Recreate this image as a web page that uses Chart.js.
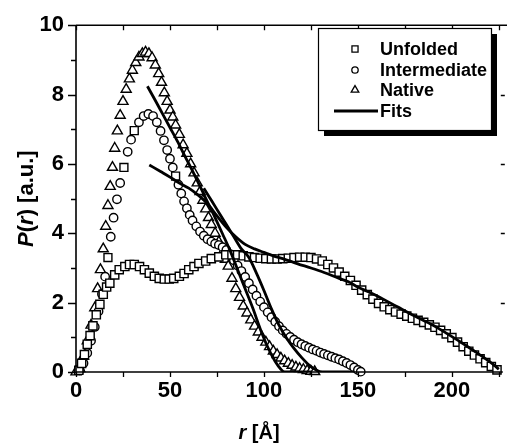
<!DOCTYPE html>
<html><head><meta charset="utf-8">
<script src="https://cdn.jsdelivr.net/npm/chart.js@4.4.1/dist/chart.umd.min.js"></script>
<style>html,body{margin:0;padding:0;background:#fff;}</style>
</head><body>
<canvas id="c" width="507" height="444"></canvas>
<script>
// ---- data (r in Å, P(r) in a.u.) ----
const unfoldedR = [1.5,3,4.5,6,7.5,9,10.8,12.7,14.5,16.3,18,20.6,23,26,28.5,31,33.8,36.4,39,41.7,44.3,47,49.6,52,55,57.5,60,62.8,65.4,69,72,76,79.7,83,86,89,92,95,98,101,104,107,110,113,116,119,122,125,128,131,134,137,140,143,146,149,152,155,158,161,164,167,170,173,176,179,182,185,188,191,194,197,200,203,206,209,212,215,218,221,224];
const unfoldedP = [0.05,0.25,0.5,0.8,1.05,1.33,1.65,1.95,2.24,2.45,2.56,2.8,2.95,3.04,3.1,3.1,3.04,2.95,2.85,2.76,2.7,2.68,2.68,2.7,2.76,2.84,2.95,3.04,3.13,3.2,3.27,3.32,3.38,3.38,3.38,3.35,3.32,3.3,3.28,3.27,3.26,3.26,3.27,3.28,3.3,3.31,3.31,3.3,3.26,3.2,3.1,3.0,2.88,2.76,2.64,2.5,2.36,2.23,2.1,1.98,1.88,1.8,1.73,1.67,1.61,1.55,1.49,1.43,1.36,1.29,1.2,1.1,0.99,0.86,0.73,0.6,0.49,0.38,0.27,0.16,0.06];

const intermediateR = [2,4,6,8,10,12,13.8,15.5,17,18.5,20,21.8,23.5,25.5,27.5,29.3,31,33.5,36,38.5,41,43,45,46.8,48.5,50,51.5,53,54.5,56,57.5,59,60.5,62,64,66,68,70,72,74,76,78,80,82,84,86,88,90,92,94,96,98,100,102,104,106,108,110,112,114,116,118,120,122,124,126,128,130,132,134,136,138,140,142,144,146,148,150,151.5];
const intermediateP = [0.05,0.25,0.55,0.9,1.3,1.75,2.25,2.75,3.3,3.9,4.45,4.98,5.45,5.9,6.35,6.7,6.96,7.2,7.38,7.44,7.38,7.2,6.95,6.68,6.4,6.15,5.9,5.65,5.4,5.15,4.92,4.72,4.53,4.37,4.2,4.05,3.93,3.83,3.76,3.7,3.66,3.6,3.52,3.4,3.22,3.07,2.91,2.74,2.56,2.38,2.2,2.03,1.87,1.72,1.58,1.45,1.32,1.2,1.1,1.01,0.93,0.86,0.8,0.75,0.7,0.65,0.61,0.56,0.52,0.48,0.44,0.4,0.36,0.31,0.26,0.2,0.13,0.06,0.01];
const intermediateSquareAt = [17,25.5,31,53];

const nativeR = [0,2,4,6,8,10,11.5,13,14.5,15.8,17,18.2,19.4,20.6,22,23.5,25,26.7,28.4,30,31.8,33.5,35.3,37,38.8,40.5,42.2,44,45.5,47,48.5,50,51.5,53,55,57,59,61,62.8,64.5,66,67.5,69,70.5,72,74,76,78,79.5,81,83,85,87,89,91,93,95,97,99,101,103,105,107,109,111,113,115,117,119,121,123,125,127];
const nativeP = [0,0.1,0.45,0.9,1.35,1.85,2.4,2.95,3.55,4.2,4.8,5.35,5.9,6.45,6.95,7.4,7.8,8.15,8.45,8.7,8.92,9.08,9.18,9.22,9.18,9.06,8.85,8.6,8.35,8.05,7.8,7.55,7.35,7.12,6.85,6.55,6.3,6.0,5.74,5.45,5.2,4.95,4.7,4.45,4.25,4.0,3.75,3.45,3.25,3.05,2.7,2.4,2.15,1.9,1.7,1.5,1.32,1.15,1.0,0.86,0.73,0.6,0.5,0.4,0.32,0.25,0.19,0.14,0.1,0.07,0.04,0.02,0.01];

const fitUnfoldedR = [39,45,50,55,60,65,70,75,80,85,90,95,100,105,110,118,125,132,140,145,150,160,171,180,190,197,205,212,218,222,225];
const fitUnfoldedP = [5.97,5.78,5.62,5.45,5.3,5.1,4.85,4.5,4.17,3.9,3.68,3.55,3.45,3.35,3.27,3.12,3.0,2.87,2.7,2.6,2.45,2.2,1.88,1.62,1.35,1.12,0.85,0.6,0.38,0.22,0.08];
const fitIntermediateR = [68,72,76,80,84,88,92,96,100,104,108,112,116,120,124,128,131,148];
const fitIntermediateP = [5.3,4.95,4.6,4.25,3.9,3.55,3.3,2.85,2.35,1.82,1.35,0.98,0.68,0.42,0.2,0.05,0,0];
const fitNativeR = [38,42,46,50,54,58,62,66,70,74,78,82,86,90,94,98,102,106,109,111,125];
const fitNativeP = [8.24,7.85,7.45,7.05,6.65,6.22,5.8,5.35,4.9,4.45,3.98,3.5,2.95,2.4,1.85,1.25,0.72,0.3,0.08,0,0];

const xLabelTicks = [0,50,100,150,200];
const yLabelTicks = [0,2,4,6,8,10];
const legendLabels = ['Unfolded','Intermediate','Native','Fits'];

const pts = (R,P) => R.map((r,i)=>({x:r,y:P[i]}));
const FONT = "'Liberation Sans', Arial, sans-serif";

const markerBase = {showLine:false, backgroundColor:'#fff', borderColor:'#000', pointBorderWidth:1.4, pointBackgroundColor:'#fff', pointBorderColor:'#000', clip:false, order:2};
const fitBase = {showLine:true, borderColor:'#000', borderWidth:2.8, pointRadius:0, cubicInterpolationMode:'monotone', fill:false, order:1};

const decor = {
  id:'decor',
  afterDraw(chart){
    const {ctx, chartArea:a, scales:{x,y}} = chart;
    ctx.save();
    ctx.strokeStyle='#000'; ctx.lineWidth=1.6;
    ctx.beginPath();
    ctx.moveTo(a.left, a.top); ctx.lineTo(a.left, a.bottom); ctx.lineTo(a.right+3, a.bottom);
    ctx.moveTo(a.left, a.top); ctx.lineTo(chart.width, a.top);
    ctx.stroke();
    ctx.lineWidth=1.3;
    ctx.beginPath();
    for (let v=0; v<=225; v+=25){
      const px=Math.round(x.getPixelForValue(v))+0.5;
      ctx.moveTo(px,a.bottom); ctx.lineTo(px,a.bottom+5);
      ctx.moveTo(px,a.top); ctx.lineTo(px,a.top+5);
    }
    for (let v=0; v<=10; v++){
      const py=Math.round(y.getPixelForValue(v))+0.5;
      const len = v%2===0?8:5;
      ctx.moveTo(a.left,py); ctx.lineTo(a.left-len,py);
      if (v%2===0 && v>0 && v<10){ ctx.moveTo(a.right+1,py); ctx.lineTo(a.right+5,py); }
    }
    ctx.stroke();

    // legend box with shadow
    const bx=318, by=28, bw=173, bh=102;
    ctx.fillStyle='#000'; ctx.fillRect(bx+6,by+6,bw,bh);
    ctx.fillStyle='#fff'; ctx.fillRect(bx,by,bw,bh);
    ctx.lineWidth=1.2; ctx.strokeRect(bx+0.5,by+0.5,bw,bh);
    const rows=[49,70,90,111];
    const styles=[{pointStyle:'rect',radius:4.3},{pointStyle:'circle',radius:3.2},{pointStyle:'triangle',radius:4.4}];
    ctx.font = `bold 18px ${FONT}`;
    ctx.textBaseline='middle'; ctx.textAlign='left';
    legendLabels.forEach((t,i)=>{
      if (i<3){
        ctx.fillStyle='#fff'; ctx.strokeStyle='#000'; ctx.lineWidth=1.3;
        Chart.helpers.drawPoint(ctx,{pointStyle:styles[i].pointStyle,radius:styles[i].radius,rotation:0,borderWidth:1.3},355,rows[i]);
      } else {
        ctx.strokeStyle='#000'; ctx.lineWidth=2.8;
        ctx.beginPath(); ctx.moveTo(334,rows[i]); ctx.lineTo(378,rows[i]); ctx.stroke();
      }
      ctx.fillStyle='#000';
      ctx.fillText(t,380,rows[i]+1);
    });

    // axis titles
    const rich=(parts,cx,cy)=>{
      let w=0; parts.forEach(p=>{ctx.font=p[1]; w+=ctx.measureText(p[0]).width;});
      let xx=cx-w/2;
      parts.forEach(p=>{ctx.font=p[1]; ctx.fillText(p[0],xx,cy); xx+=ctx.measureText(p[0]).width;});
    };
    ctx.fillStyle='#000'; ctx.textBaseline='middle'; ctx.textAlign='left';
    const B=`bold 22px ${FONT}`, I=`italic bold 22px ${FONT}`;
    ctx.save();
    ctx.translate(27,(a.top+a.bottom)/2);
    ctx.rotate(-Math.PI/2);
    rich([['P',I],['(',B],['r',I],[') [a.u.]',B]],0,0);
    ctx.restore();
    const B2=`bold 20px ${FONT}`, I2=`italic bold 20px ${FONT}`;
    rich([['r',I2],[' [Å]',B2]],259,433);
    ctx.restore();
  }
};

new Chart(document.getElementById('c'), {
  type:'scatter',
  data:{datasets:[
    {...fitBase, label:'Fits (unfolded)', data:pts(fitUnfoldedR,fitUnfoldedP)},
    {...fitBase, label:'Fits (intermediate)', data:pts(fitIntermediateR,fitIntermediateP)},
    {...fitBase, label:'Fits (native)', data:pts(fitNativeR,fitNativeP)},
    {...markerBase, label:'Unfolded', data:pts(unfoldedR,unfoldedP), pointStyle:'rect', pointRadius:5.8},
    {...markerBase, label:'Intermediate', data:pts(intermediateR,intermediateP),
      pointStyle:ctx=>intermediateSquareAt.includes(intermediateR[ctx.dataIndex])?'rect':'circle',
      pointRadius:ctx=>intermediateSquareAt.includes(intermediateR[ctx.dataIndex])?5.6:4.2},
    {...markerBase, label:'Native', data:pts(nativeR,nativeP), pointStyle:'triangle', pointRadius:5.8}
  ]},
  options:{
    responsive:false, animation:false, devicePixelRatio:1,
    layout:{padding:{left:0,right:4,top:20,bottom:0}},
    plugins:{legend:{display:false}, tooltip:{enabled:false}},
    scales:{
      x:{type:'linear', min:0, max:225.5,
        afterFit:s=>{s.height=72;},
        afterBuildTicks:s=>{s.ticks = xLabelTicks.map(v=>({value:v}));},
        border:{display:false}, grid:{display:false, drawTicks:false},
        ticks:{padding:6, color:'#000', font:{family:FONT, size:22, weight:'bold'},
          autoSkip:false, maxRotation:0, minRotation:0,
          callback:v=>String(v)}},
      y:{type:'linear', min:0, max:10,
        afterFit:s=>{s.width=76;},
        afterBuildTicks:s=>{s.ticks = yLabelTicks.map(v=>({value:v}));},
        border:{display:false}, grid:{display:false, drawTicks:false},
        ticks:{padding:12, color:'#000', font:{family:FONT, size:22, weight:'bold'},
          callback:v=>String(v)}}
    }
  },
  plugins:[decor]
});
</script>
</body></html>
